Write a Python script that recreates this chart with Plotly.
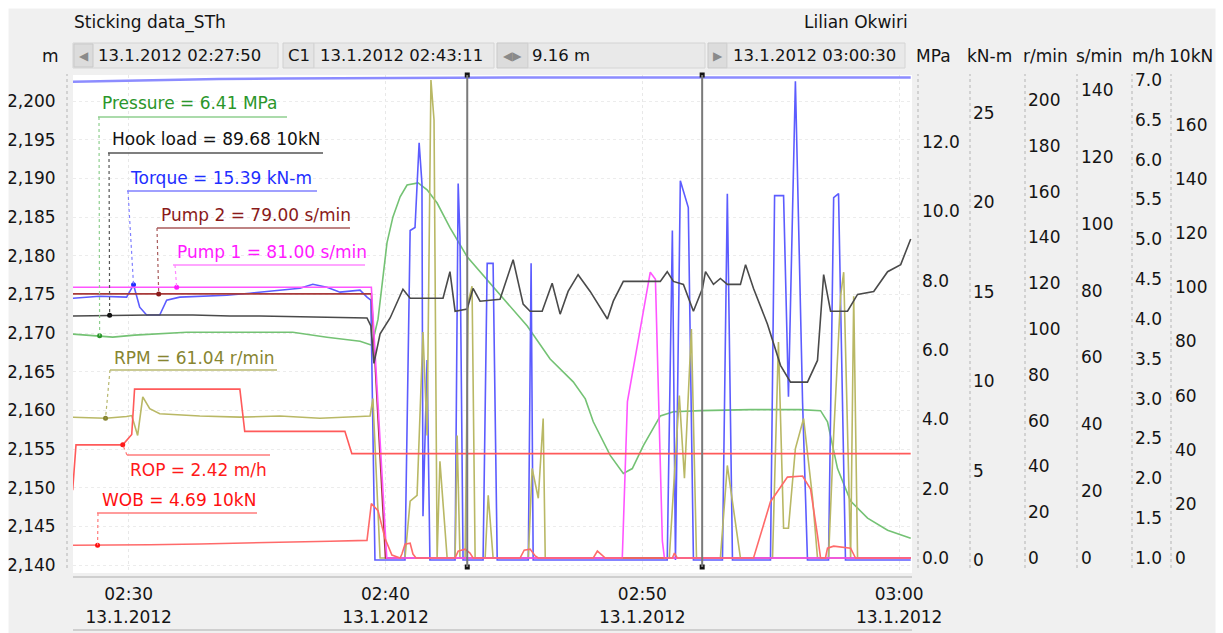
import plotly.graph_objects as go
import pandas as pd

# ---------------- data (time = minutes after 02:00 on 13.1.2012) ----------------
BASE = pd.Timestamp("2012-01-13 02:00:00")
t_start, t_end = 27 + 50 / 60, 60.5          # 02:27:50 .. 03:00:30
cursor_t = [43 + 11 / 60, 52.33]              # C1 02:43:11 and second cursor

xtick_min = [30, 40, 50, 60]
xtick_text = ["02:30<br>13.1.2012", "02:40<br>13.1.2012", "02:50<br>13.1.2012", "03:00<br>13.1.2012"]

depth_ticks = [2140, 2145, 2150, 2155, 2160, 2165, 2170, 2175, 2180, 2185, 2190, 2195, 2200]
mpa_ticks = [0, 2, 4, 6, 8, 10, 12]
knm_ticks = [0, 5, 10, 15, 20, 25]
rmin_ticks = [0, 20, 40, 60, 80, 100, 120, 140, 160, 180, 200]
smin_ticks = [0, 20, 40, 60, 80, 100, 120, 140]
mh_ticks = [1.0, 1.5, 2.0, 2.5, 3.0, 3.5, 4.0, 4.5, 5.0, 5.5, 6.0, 6.5, 7.0]
kn_ticks = [0, 20, 40, 60, 80, 100, 120, 140, 160]
unit_names = ["MPa", "kN-m", "r/min", "s/min", "m/h", "10kN"]

depth_t = [27.82, 28.60, 30.00, 31.50, 33.50, 36.00, 38.50, 39.60, 45.00, 52.00, 60.45]
depth_v = [2202.5, 2202.55, 2202.7, 2202.8, 2202.85, 2202.9, 2202.95, 2203.0, 2203.05, 2203.05, 2203.05]

pressure_t = [27.82, 28.87, 29.38, 30.23, 31.21, 32.26, 33.82, 35.11, 36.39, 37.72, 39.01, 39.47, 39.71,
              40.06, 40.29, 40.57, 40.84, 41.27, 41.62, 42.01, 42.51, 43.18, 43.68, 44.19, 44.85, 45.52,
              46.41, 47.31, 47.78, 48.09, 48.75, 49.26, 49.61, 50.04, 50.70, 51.21, 52.26, 54.21, 56.16,
              56.94, 57.21, 57.60, 58.11, 58.77, 59.55, 60.45]
pressure_v = [6.46, 6.41, 6.37, 6.43, 6.46, 6.51, 6.51, 6.50, 6.51, 6.37, 6.25, 6.14, 6.89,
              9.10, 9.84, 10.42, 10.76, 10.82, 10.62, 10.24, 9.53, 8.69, 8.26, 7.83, 7.26, 6.69,
              5.74, 5.08, 4.59, 3.93, 2.96, 2.44, 2.58, 3.24, 4.10, 4.22, 4.25, 4.28, 4.28,
              4.25, 3.93, 2.58, 1.64, 1.15, 0.80, 0.57]

hook_t = [27.82, 29.26, 30.82, 32.50, 33.94, 35.11, 36.67, 37.72, 39.28, 39.43,
          39.55, 39.79, 40.18, 40.68, 40.96, 42.24, 42.51, 42.71, 43.18, 43.41,
          43.68, 44.46, 44.97, 45.36, 45.63, 46.10, 46.49, 46.80, 47.11, 47.50,
          47.97, 48.64, 48.87, 49.26, 50.70, 50.97, 51.21, 51.60, 51.99, 52.34,
          52.46, 52.77, 53.04, 53.31, 53.82, 54.02, 54.33, 54.87, 55.38, 55.77,
          56.43, 56.82, 57.06, 57.33, 57.99, 58.38, 59.01, 59.55, 60.06, 60.45]
hook_v = [89.4, 89.68, 89.8, 89.8, 89.4, 89.4, 89.1, 89.1, 88.7, 85.8,
          71.9, 82.8, 88.7, 99.3, 96.0, 96.0, 105.8, 91.2, 92.0, 99.6,
          94.9, 95.6, 110.2, 93.8, 91.2, 91.2, 101.5, 90.1, 98.5, 104.7,
          98.5, 88.3, 94.9, 102.2, 102.2, 105.8, 102.2, 101.1, 91.2, 99.6,
          105.8, 101.1, 103.3, 101.1, 101.1, 108.4, 99.6, 86.5, 71.2, 65.0,
          65.0, 73.0, 104.7, 91.2, 91.2, 97.4, 98.5, 105.8, 108.4, 117.9]

torque_t = [27.82, 28.87, 29.92, 30.19, 30.43, 30.70, 31.21, 31.48, 31.99, 32.77,
            33.82, 34.72, 35.89, 36.67, 37.17, 37.72, 38.23, 39.01, 39.28, 39.43,
            39.59, 40.76, 40.96, 41.15, 41.31, 41.42, 41.46, 41.62, 41.73, 42.71,
            42.83, 42.90, 43.02, 43.80, 43.96, 44.19, 44.35, 45.56, 45.67, 45.75,
            50.97, 51.17, 51.29, 51.48, 51.79, 51.99, 53.12, 53.31, 53.51, 54.99,
            55.15, 55.50, 55.69, 55.96, 56.24, 56.43, 57.25, 57.45, 57.64, 57.91, 60.45]
torque_v = [14.64, 14.75, 14.70, 15.39, 14.14, 13.70, 13.70, 14.53, 14.70, 14.75,
            14.81, 14.92, 15.09, 15.20, 15.42, 15.26, 14.98, 15.09, 14.70, 14.53,
            0, 0, 18.43, 18.60, 23.33, 21.05, 2.45, 11.19, 0, 0,
            21.05, 18.04, 0, 0, 16.59, 16.59, 0, 0, 16.59, 0,
            0, 18.43, 0, 21.21, 19.71, 0, 0, 20.49, 0, 0,
            20.38, 20.38, 9.13, 26.78, 8.80, 0, 0, 20.27, 20.49, 0, 0]

pump2_t = [27.82, 39.45, 40.00, 60.45]
pump2_v = [79.0, 79.0, 0, 0]

pump1_t = [27.82, 39.45, 40.05, 49.22, 49.42, 49.92, 50.31, 50.51, 50.78, 50.86, 60.45]
pump1_v = [81.0, 81.0, 0, 0, 46.8, 68.5, 85.5, 83.4, 5.1, 0, 0]

rpm_t = [27.82, 29.10, 29.92, 30.12, 30.35, 30.55, 30.82, 31.21, 32.77, 34.33,
         35.89, 37.45, 39.01, 39.40, 39.51, 39.79, 40.76, 40.96, 41.23, 41.46,
         41.62, 41.77, 41.89, 42.01, 42.12, 42.40, 42.71, 42.79, 42.90, 43.10,
         43.22, 43.37, 43.49, 43.88, 44.00, 44.19, 45.56, 45.71, 45.95, 46.14,
         46.22, 51.05, 51.44, 51.64, 51.91, 52.11, 53.04, 53.31, 53.82, 55.07,
         55.30, 55.50, 55.69, 55.96, 56.28, 56.63, 56.82, 57.25, 57.45, 57.72,
         57.84, 58.11, 58.23, 58.38, 60.45]
rpm_v = [61.5, 61.04, 61.8, 62.2, 53.5, 70.4, 65.2, 63.0, 62.0, 61.5,
         62.0, 61.0, 61.8, 62.0, 69.6, 0, 0, 24.8, 27.4, 98.7,
         53.5, 208.7, 191.3, 0, 42.2, 0, 0, 53.5, 0, 0,
         111.7, 118.7, 0, 0, 27.4, 0, 0, 39.1, 26.1, 60.9,
         0, 0, 70.9, 34.8, 100.0, 0, 0, 40.4, 0, 0,
         94.3, 13.0, 13.0, 47.8, 60.9, 26.1, 0, 0, 53.5, 114.3,
         124.8, 0, 114.3, 0, 0]

rop_t = [27.82, 27.95, 29.77, 30.12, 30.23, 34.33, 34.52, 38.42, 38.69, 60.45]
rop_v = [1.85, 2.42, 2.42, 2.55, 3.12, 3.12, 2.59, 2.59, 2.31, 2.31]

wob_t = [27.82, 28.79, 30.82, 32.77, 34.72, 36.67, 37.84, 39.28, 39.45, 39.71,
         39.98, 40.25, 40.57, 40.64, 40.76, 40.96, 41.07, 41.19, 42.71, 42.83,
         43.10, 43.29, 43.41, 45.24, 45.40, 45.63, 45.83, 45.95, 48.09, 48.25,
         48.40, 48.56, 51.17, 51.25, 51.36, 54.33, 54.99, 55.65, 56.24, 56.55,
         56.82, 56.94, 57.13, 57.21, 57.45, 58.11, 58.30, 60.45]
wob_v = [4.69, 4.69, 4.9, 5.2, 5.5, 5.9, 6.2, 6.5, 20.1, 17.5,
         7.3, 1.09, 0, 1.46, 5.11, 5.47, 1.46, 0, 0, 2.55,
         3.28, 1.82, 0, 0, 2.92, 3.28, 0.73, 0, 0, 2.55,
         1.46, 0, 0, 1.82, 0, 0, 20.8, 29.9, 30.3, 25.5,
         8.39, 0, 0, 3.65, 4.38, 3.65, 0, 0]

label_names = ["Pressure", "Hook load", "Torque", "Pump 2", "Pump 1", "RPM", "ROP", "WOB"]
label_vals = [6.41, 89.68, 15.39, 79.00, 81.00, 61.04, 2.42, 4.69]
label_units = ["MPa", "10kN", "kN-m", "s/min", "s/min", "r/min", "m/h", "10kN"]
label_times = [28.87, 29.26, 30.19, 31.17, 31.87, 29.10, 29.77, 28.79]

# ---------------- geometry helpers (layout only) ----------------
FONT = "DejaVu Sans"
W, H = 1223, 633
ML, MR, MT, MB = 73, 10, 75, 60
PW, PH = W - ML - MR, H - MT - MB


def fx(p):
    return (p - ML) / PW


def fy(p):
    return (H - MB - p) / PH


XD = fx(912)


def rng(v0, p0, v1, p1):
    s = (v1 - v0) / (p0 - p1)
    return [v0 - (H - MB - p0) * s, v0 + (p0 - MT) * s]


R = {
    "y": rng(2140, 565, 2200, 101),
    "y2": rng(0, 558, 12, 142),
    "y3": rng(0, 560, 25, 113),
    "y4": rng(0, 558, 200, 100),
    "y5": rng(0, 558, 140, 90),
    "y6": rng(1, 558, 7, 80),
    "y7": rng(0, 558, 160, 125),
}


def T(mins):
    return [BASE + pd.Timedelta(minutes=m) for m in mins]


def tx(m):
    return XD * (m - t_start) / (t_end - t_start)


def vy(v, ax):
    lo, hi = R[ax]
    return (v - lo) / (hi - lo)


# ---------------- figure ----------------
fig = go.Figure()


def line(t, v, ax, color, width=1.6):
    fig.add_trace(go.Scatter(x=T(t), y=v, yaxis=ax, mode="lines",
                             line=dict(color=color, width=width),
                             showlegend=False, hoverinfo="skip"))


line(depth_t, depth_v, "y", "#8c8cff", 2.5)
line(pressure_t, pressure_v, "y2", "#74c274")
line(hook_t, hook_v, "y7", "#4a4a4a")
line(rpm_t, rpm_v, "y4", "#b9b865")
line(pump2_t, pump2_v, "y5", "#a83a3a")
line(pump1_t, pump1_v, "y5", "#ff55ff")
line(rop_t, rop_v, "y6", "#ff5a5a")
line(wob_t, wob_v, "y7", "#ff6a6a")
line(torque_t, torque_v, "y3", "#5c5cff")

# label definitions: (text left x, text y, underline y, underline x0, x1, leader top x, axis, text colour, line colour)
label_geo = [
    (100, 103, 117, 98, 287, 99, "y2", "#2a962a", "#8fcf8f"),
    (110, 139, 153, 108, 323, 109, "y7", "#111111", "#555555"),
    (128, 178, 191, 127, 317, 128, "y3", "#1f2fff", "#8080ff"),
    (159, 215, 228, 157, 350, 157, "y5", "#8a1a1a", "#a85a5a"),
    (175, 252, 265, 173, 365, 175, "y5", "#ff1aff", "#ff88ff"),
    (112, 358, 370, 110, 277, 110, "y4", "#878530", "#b8b870"),
    (128, 470, 455, 127, 270, 127, "y6", "#ff1a1a", "#ff7b7b"),
    (100, 500, 513, 97, 257, 98, "y7", "#ff1010", "#ff7b7b"),
]

shapes = []
annotations = []


def ann(text, x, y, size=17, color="#141414", xanchor="left"):
    annotations.append(dict(text=text, x=fx(x), y=fy(y), xref="paper", yref="paper",
                            xanchor=xanchor, yanchor="middle", showarrow=False,
                            font=dict(family=FONT, size=size, color=color)))


def rect(x0, x1, y0, y1, fill, line_c=None, w=1):
    shapes.append(dict(type="rect", xref="paper", yref="paper",
                       x0=fx(x0), x1=fx(x1), y0=fy(y1), y1=fy(y0),
                       fillcolor=fill, line=dict(color=line_c or fill, width=w), layer="above"))


for i, (lx, ly, uy, ux0, ux1, ldx, ax, tcol, lcol) in enumerate(label_geo):
    txt = f"{label_names[i]} = {label_vals[i]:.2f} {label_units[i]}"
    ann(txt, lx, ly, 17, tcol)
    shapes.append(dict(type="line", xref="paper", yref="paper", x0=fx(ux0), x1=fx(ux1),
                       y0=fy(uy), y1=fy(uy), line=dict(color=lcol, width=1.5), layer="above"))
    shapes.append(dict(type="line", xref="paper", yref="paper", x0=fx(ldx), y0=fy(uy),
                       x1=tx(label_times[i]), y1=vy(label_vals[i], ax),
                       line=dict(color=lcol, width=1.2, dash="dot"), layer="above"))
    fig.add_trace(go.Scatter(x=T([label_times[i]]), y=[label_vals[i]], yaxis=ax, mode="markers",
                             marker=dict(color=tcol, size=5), showlegend=False, hoverinfo="skip"))

# cursors
for c in cursor_t:
    shapes.append(dict(type="line", xref="x", yref="paper", x0=str(T([c])[0]), x1=str(T([c])[0]),
                       y0=fy(567), y1=fy(75), line=dict(color="#7a7a7a", width=2), layer="above"))
cur_top = R["y"][1]
cur_bot = R["y"][0] + (R["y"][1] - R["y"][0]) * fy(567)
fig.add_trace(go.Scatter(x=T(cursor_t + cursor_t), y=[cur_top] * 2 + [cur_bot] * 2, yaxis="y",
                         mode="markers", marker=dict(color="#111111", size=5, symbol="square"),
                         cliponaxis=False, showlegend=False, hoverinfo="skip"))

# dotted separators of the axes
for sx in [67, 918, 970, 1025, 1077, 1132, 1171]:
    shapes.append(dict(type="line", xref="paper", yref="paper", x0=fx(sx), x1=fx(sx),
                       y0=fy(568), y1=fy(74), line=dict(color="#b4b4b4", width=1, dash="dot")))

# bottom rails
for by in [577, 630]:
    shapes.append(dict(type="line", xref="paper", yref="paper", x0=fx(73), x1=fx(912),
                       y0=fy(by), y1=fy(by), line=dict(color="#cfcfcf", width=2)))

# white outer border
rect(0, W, 0, 8, "#ffffff")
rect(0, 8, 0, H, "#ffffff")
rect(1216, W, 0, H, "#ffffff")

# header bar boxes
rect(73, 278, 43, 68, "#e9e9e9", "#d4d4d4")
rect(74, 93, 44, 67, "#dcdcdc", "#c9c9c9")
rect(283, 314, 43, 68, "#e4e4e4", "#d0d0d0")
rect(314, 494, 43, 68, "#e9e9e9", "#d4d4d4")
rect(497, 528, 43, 68, "#dcdcdc", "#c9c9c9")
rect(528, 705, 43, 68, "#e9e9e9", "#d4d4d4")
rect(708, 727, 43, 68, "#dcdcdc", "#c9c9c9")
rect(727, 905, 43, 68, "#e9e9e9", "#d4d4d4")

ann("Sticking data_STh", 72, 22, 17)
ann("Lilian Okwiri", 910, 22, 17, xanchor="right")
ann("m", 61, 56, 17, xanchor="right")
ann("◀", 83.5, 56, 12, "#8a8a8a", xanchor="center")
ann("13.1.2012 02:27:50", 96, 56, 16.5)
ann("C1", 286, 56, 16.5)
ann("13.1.2012 02:43:11", 318, 56, 16.5)
ann("◀▶", 512.5, 56, 12, "#8a8a8a", xanchor="center")
ann("9.16 m", 530, 56, 16.5)
ann("▶", 717.5, 56, 12, "#8a8a8a", xanchor="center")
ann("13.1.2012 03:00:30", 731, 56, 16.5)
for name, ux in zip(unit_names, [914, 965, 1021, 1074, 1130, 1167]):
    ann(name, ux, 56, 17)

tickfont = dict(family=FONT, size=17, color="#141414")


def side_axis(ax, ticks, pos_px, fmt=None):
    d = dict(overlaying="y", anchor="free", position=fx(pos_px), side="right",
             range=R[ax], tickvals=ticks, showgrid=False, zeroline=False, showline=False,
             ticks="", tickfont=tickfont, automargin=False, fixedrange=True)
    if fmt:
        d["tickformat"] = fmt
    return d


fig.update_layout(
    width=W, height=H,
    margin=dict(l=ML, r=MR, t=MT, b=MB),
    paper_bgcolor="#f0f0f0", plot_bgcolor="#ffffff",
    font=dict(family=FONT, size=17, color="#141414"),
    hovermode=False,
    showlegend=False,
    xaxis=dict(type="date", domain=[0, XD], range=[str(T([t_start])[0]), str(T([t_end])[0])],
               tickvals=[str(v) for v in T(xtick_min)], ticktext=xtick_text,
               ticks="outside", ticklen=6, tickcolor="rgba(0,0,0,0)",
               showgrid=True, gridcolor="#e8e8e8", griddash="dot",
               zeroline=False, showline=False, tickfont=tickfont, automargin=False),
    yaxis=dict(range=R["y"], tickvals=depth_ticks, tickformat=",",
               ticks="outside", ticklen=13, tickcolor="rgba(0,0,0,0)",
               showgrid=True, gridcolor="#ececec", griddash="dot",
               zeroline=False, showline=False, tickfont=tickfont, automargin=False),
    yaxis2=side_axis("y2", mpa_ticks, 921, ".1f"),
    yaxis3=side_axis("y3", knm_ticks, 972),
    yaxis4=side_axis("y4", rmin_ticks, 1027),
    yaxis5=side_axis("y5", smin_ticks, 1080),
    yaxis6=side_axis("y6", mh_ticks, 1134, ".1f"),
    yaxis7=side_axis("y7", kn_ticks, 1174),
    shapes=shapes,
    annotations=annotations,
)

fig.write_html("out.html")
